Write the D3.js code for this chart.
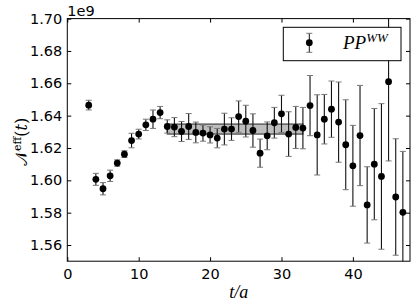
<!DOCTYPE html>
<html>
<head>
<meta charset="utf-8">
<script src="https://cdn.jsdelivr.net/npm/d3@7"></script>
<style>
body { margin: 0; background: #fff; }
svg { display: block; }
.tick text { font-family: "DejaVu Sans", sans-serif; font-size: 14.5px; fill: #000; }
</style>
</head>
<body>
<svg id="svg" width="415" height="307"></svg>
<script>
// effective amplitude (in units of 1e9) vs t/a
let tValues = [3, 4, 5, 6, 7, 8, 9, 10, 11, 12, 13, 14, 15, 16, 17, 18, 19, 20, 21, 22, 23, 24, 25,
	26, 27, 28, 29, 30, 31, 32, 33, 34, 35, 36, 37, 38, 39, 40, 41, 42, 43, 44, 45, 46, 47];
let ampValues = [1.6465, 1.6006, 1.5948, 1.6028, 1.6107, 1.6162, 1.6246, 1.6286, 1.6343, 1.6378,
	1.6419, 1.6333, 1.6329, 1.6302, 1.6333, 1.6296, 1.6292, 1.6281, 1.6261, 1.6317, 1.6317,
	1.6394, 1.6366, 1.6308, 1.6168, 1.6275, 1.6356, 1.6411, 1.6286, 1.6327, 1.6323, 1.6462,
	1.6281, 1.6378, 1.6440, 1.6360, 1.6220, 1.6090, 1.6277, 1.5848, 1.6100, 1.6024, 1.6610,
	1.5897, 1.5802];
let ampErrors = [0.0030, 0.0037, 0.0038, 0.0035, 0.0020, 0.0021, 0.0045, 0.0030, 0.0035, 0.0057,
	0.0038, 0.0041, 0.0059, 0.0062, 0.0080, 0.0064, 0.0050, 0.0050, 0.0060, 0.0098, 0.0070,
	0.0097, 0.0098, 0.0103, 0.0087, 0.0086, 0.0095, 0.0115, 0.0138, 0.0130, 0.0128, 0.0186,
	0.0248, 0.0153, 0.0174, 0.0248, 0.0278, 0.0250, 0.0310, 0.0236, 0.0344, 0.0450, 0.0490,
	0.0360, 0.0377];

// plateau fit
let fitRange = [14, 33];
let fitValue = 1.6317;
let fitError = 0.0031;

let xTicks = [0, 10, 20, 30, 40];
let yTicks = [1.56, 1.58, 1.60, 1.62, 1.64, 1.66, 1.68, 1.70];

let data = tValues.map(function(t, i) {
	return {t: t, v: ampValues[i], e: ampErrors[i]};
});

let svg = d3.select("#svg");
let padding = {top: 18.6, right: 5, bottom: 45.8, left: 67.3};
let area = {
	width: 415 - padding.left - padding.right,
	height: 307 - padding.top - padding.bottom
};

let xScale = d3.scaleLinear().domain([0, 48]).range([0, area.width]);
let yScale = d3.scaleLinear().domain([1.55, 1.70]).range([area.height, 0]);

let plot = svg.append("g")
	.attr("transform", "translate(" + padding.left + "," + padding.top + ")");

svg.append("defs").append("clipPath").attr("id", "clip")
	.append("rect").attr("width", area.width).attr("height", area.height);

let inner = plot.append("g").attr("clip-path", "url(#clip)");

// fit band
inner.append("rect")
	.attr("x", xScale(fitRange[0]))
	.attr("y", yScale(fitValue + fitError))
	.attr("width", xScale(fitRange[1]) - xScale(fitRange[0]))
	.attr("height", yScale(fitValue - fitError) - yScale(fitValue + fitError))
	.attr("fill", "#bdbdbd")
	.attr("stroke", "#222")
	.attr("stroke-width", 1);

// error bars
let bars = inner.selectAll("g.err").data(data).enter().append("g").attr("class", "err");
bars.append("line")
	.attr("x1", d => xScale(d.t)).attr("x2", d => xScale(d.t))
	.attr("y1", d => yScale(d.v + d.e)).attr("y2", d => yScale(d.v - d.e))
	.attr("stroke", "#111").attr("stroke-width", 1.1);
[1, -1].forEach(function(s) {
	bars.append("line")
		.attr("x1", d => xScale(d.t) - 3).attr("x2", d => xScale(d.t) + 3)
		.attr("y1", d => yScale(d.v + s * d.e)).attr("y2", d => yScale(d.v + s * d.e))
		.attr("stroke", "#777").attr("stroke-width", 1);
});

inner.selectAll("circle").data(data).enter().append("circle")
	.attr("cx", d => xScale(d.t))
	.attr("cy", d => yScale(d.v))
	.attr("r", 3.4)
	.attr("fill", "#000");

// axes, ticks inward on all sides
let xAxis = plot.append("g").attr("transform", "translate(0," + area.height + ")")
	.call(d3.axisBottom(xScale).tickValues(xTicks).tickSizeInner(-4).tickSizeOuter(0).tickPadding(8));
plot.append("g")
	.call(d3.axisTop(xScale).tickValues(xTicks).tickSizeInner(-4).tickSizeOuter(0).tickFormat(""));
plot.append("g")
	.call(d3.axisLeft(yScale).tickValues(yTicks).tickSizeInner(-4).tickSizeOuter(0).tickPadding(5)
		.tickFormat(d3.format(".2f")));
plot.append("g").attr("transform", "translate(" + area.width + ",0)")
	.call(d3.axisRight(yScale).tickValues(yTicks).tickSizeInner(-4).tickSizeOuter(0).tickFormat(""));
plot.selectAll(".domain").remove();
plot.selectAll(".tick line").attr("stroke", "#000");

plot.append("rect")
	.attr("width", area.width).attr("height", area.height)
	.attr("fill", "none").attr("stroke", "#000").attr("stroke-width", 1);

// offset text
plot.append("text")
	.attr("x", 0).attr("y", -3)
	.style("font-family", "DejaVu Sans, sans-serif").style("font-size", "14.5px")
	.text("1e9");

// axis labels
svg.append("text")
	.attr("x", padding.left + area.width / 2).attr("y", 298)
	.attr("text-anchor", "middle")
	.style("font-family", "Liberation Serif, serif").style("font-style", "italic").style("font-size", "18px")
	.text("t/a");

let yLabel = svg.append("text")
	.attr("transform", "translate(27," + (padding.top + area.height / 2 + 2) + ") rotate(-90)")
	.attr("text-anchor", "middle")
	.style("font-family", "DejaVu Serif, serif").style("font-size", "16px");
yLabel.append("tspan").text("𝒩");
yLabel.append("tspan").attr("dy", -6).style("font-size", "11px").style("font-style", "normal").text("eff");
yLabel.append("tspan").attr("dy", 6).text("(");
yLabel.append("tspan").style("font-style", "italic").text("t");
yLabel.append("tspan").text(")");

// legend
let legend = svg.append("g");
legend.append("rect")
	.attr("x", 283.3).attr("y", 27.3).attr("width", 117.7).attr("height", 33.4)
	.attr("fill", "#fff").attr("stroke", "#000").attr("stroke-width", 1);
legend.append("line").attr("x1", 309.3).attr("x2", 309.3).attr("y1", 33.3).attr("y2", 52.3)
	.attr("stroke", "#111");
legend.append("line").attr("x1", 306.3).attr("x2", 312.3).attr("y1", 33.3).attr("y2", 33.3).attr("stroke", "#777");
legend.append("line").attr("x1", 306.3).attr("x2", 312.3).attr("y1", 52.3).attr("y2", 52.3).attr("stroke", "#777");
legend.append("circle").attr("cx", 309.3).attr("cy", 42.7).attr("r", 3.4).attr("fill", "#000");
let legText = legend.append("text")
	.attr("x", 343).attr("y", 49)
	.style("font-family", "Liberation Serif, serif").style("font-style", "italic").style("font-size", "19px");
legText.append("tspan").text("PP");
legText.append("tspan").attr("dy", -7).style("font-size", "13px").text("WW");
</script>
</body>
</html>
